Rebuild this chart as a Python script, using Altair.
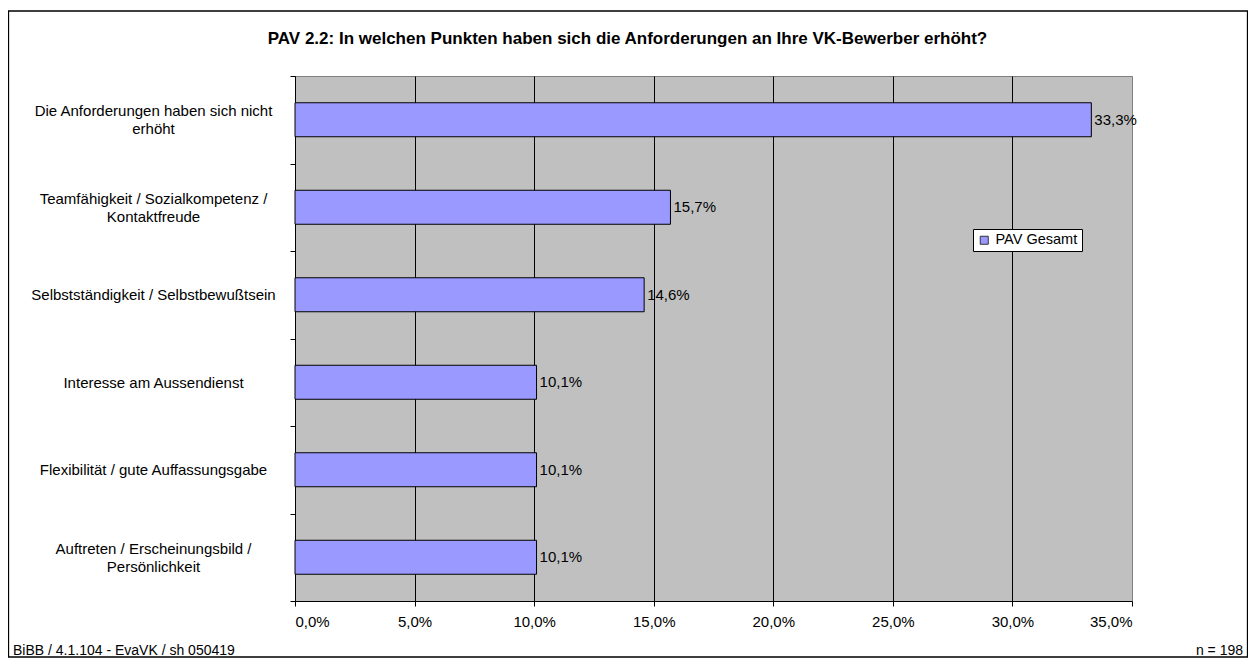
import altair as alt
import pandas as pd

FONT = "Liberation Sans"

title_text = "PAV 2.2: In welchen Punkten haben sich die Anforderungen an Ihre VK-Bewerber erhöht?"
categories = [
    "Die Anforderungen haben sich nicht\nerhöht",
    "Teamfähigkeit / Sozialkompetenz /\nKontaktfreude",
    "Selbstständigkeit / Selbstbewußtsein",
    "Interesse am Aussendienst",
    "Flexibilität / gute Auffassungsgabe",
    "Auftreten / Erscheinungsbild /\nPersönlichkeit",
]
values = [0.333, 0.157, 0.146, 0.101, 0.101, 0.101]
series_name = "PAV Gesamt"
x_ticks = [0.0, 0.05, 0.10, 0.15, 0.20, 0.25, 0.30, 0.35]
footer_left = "BiBB / 4.1.104 - EvaVK / sh 050419"
footer_right = "n = 198"

df = pd.DataFrame({"cat": categories, "val": values, "series": [series_name] * len(values)})

W, H = 837, 525

y_enc = alt.Y(
    "cat:N",
    sort=categories,
    title=None,
    scale=alt.Scale(paddingInner=0, paddingOuter=0),
    axis=alt.Axis(
        labelExpr="isValid(datum.value) ? split(datum.value, '\\n') : ''",
        labelAlign="center",
        labelBaseline="middle",
        labelPadding=137,
        labelLimit=400,
        labelFont=FONT,
        labelFontSize=15,
        labelColor="black",
        labelLineHeight=18,
        labelOffset={"condition": {"test": "isValid(datum.value) && indexof(datum.value, '\\n') >= 0", "value": -9}, "value": 0},
        tickSize=5,
        tickColor="black",
        tickBand="extent",
        domainColor="black",
        grid=False,
    ),
)

x_enc = alt.X(
    "val:Q",
    title=None,
    scale=alt.Scale(domain=[0, 0.35], nice=False),
    axis=alt.Axis(
        values=x_ticks,
        labelExpr="replace(format(datum.value, '.1%'), '.', ',')",
        labelFont=FONT,
        labelFontSize=15,
        labelColor="black",
        labelPadding=8,
        tickSize=5,
        tickColor="black",
        domainColor="black",
        grid=True,
        gridColor={"condition": {"test": "datum.value >= 0.349", "value": "#808080"}, "value": "black"},
        gridOpacity=1,
        gridWidth=1,
    ),
)

base = alt.Chart(df)

bars = base.mark_bar(size=34, stroke="black", strokeWidth=1).encode(
    x=x_enc,
    y=y_enc,
    color=alt.Color(
        "series:N",
        scale=alt.Scale(range=["#9999FF"]),
        legend=alt.Legend(
            title=None,
            orient="none",
            legendX=678,
            legendY=153,
            fillColor="white",
            strokeColor="black",
            padding=4,
            symbolType="square",
            symbolSize=64,
            symbolStrokeColor="#333333",
            symbolStrokeWidth=1,
            labelFont=FONT,
            labelFontSize=14.5,
            labelColor="black",
        ),
    ),
)

labels = base.transform_calculate(
    lbl="replace(format(datum.val, '.1%'), '.', ',')"
).mark_text(align="left", baseline="middle", dx=3, font=FONT, fontSize=15, color="black").encode(
    x="val:Q",
    y=alt.Y("cat:N", sort=categories),
    text="lbl:N",
)

one = alt.Chart(pd.DataFrame({"t": [title_text], "l": [footer_left], "r": [footer_right]}))

frame = one.mark_rect(fill=None, stroke="black", strokeWidth=1.3).encode(
    x=alt.value(-286.5), x2=alt.value(952.5), y=alt.value(-65), y2=alt.value(581)
)

title = one.mark_text(align="center", baseline="middle", font=FONT, fontSize=17, fontWeight="bold", color="black").encode(
    x=alt.value(332.5), y=alt.value(-37), text="t:N"
)

foot_l = one.mark_text(align="left", baseline="alphabetic", font=FONT, fontSize=14, color="black").encode(
    x=alt.value(-282), y=alt.value(579), text="l:N"
)
foot_r = one.mark_text(align="right", baseline="alphabetic", font=FONT, fontSize=14, color="black").encode(
    x=alt.value(948), y=alt.value(579), text="r:N"
)

chart = alt.layer(frame, bars, labels, title, foot_l, foot_r).properties(
    width=W,
    height=H,
    padding={"left": 287, "top": 68, "right": 116, "bottom": 58},
    autosize=alt.AutoSizeParams(type="none"),
    background="white",
).configure_view(fill="#C0C0C0", stroke="#808080")

chart.save("out.html", embed_options={"renderer": "svg", "actions": False})
